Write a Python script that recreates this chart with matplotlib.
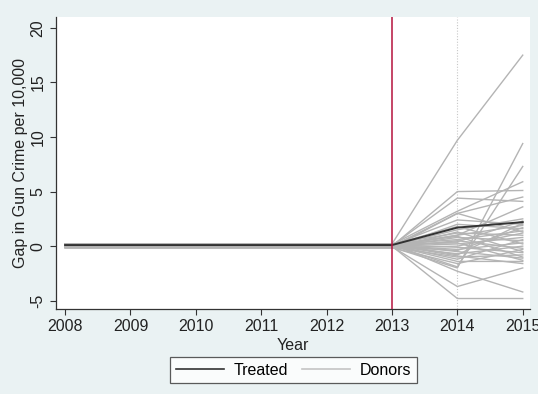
import matplotlib.pyplot as plt

plt.rcParams['font.family'] = ['Liberation Sans', 'DejaVu Sans']

years = [2008, 2009, 2010, 2011, 2012, 2013, 2014, 2015]

# treated unit
treated = [0.1, 0.1, 0.1, 0.1, 0.1, 0.1, 1.7, 2.2]

# donors: flat pre-period gap (2008-2013), then 2014 and 2015 gaps
donor_pre = [0.2, -0.1, 0.1, 0.0, 0.15, -0.15, 0.05, 0.1, -0.05, 0.2,
             0.0, 0.1, -0.1, 0.15, 0.05, -0.15, 0.2, 0.0, 0.1, -0.05,
             0.15, -0.1, 0.05, 0.2, 0.0, -0.15, 0.1, 0.05, -0.05, 0.15,
             0.0, 0.2, -0.1, 0.1, 0.05, -0.15, 0.0, 0.1]
donor_2014 = [9.7, -2.0, -1.9, 5.0, 3.2, 3.0, 4.4, 1.0, -3.7, -2.3, -4.8,
              2.4, 2.0, 1.8, 1.5, 1.3, 1.2, 1.0, 0.9, 0.8, 0.6, 0.5,
              0.4, 0.3, 0.2, 0.0, -0.1, -0.3, -0.4, -0.5, -0.7, -0.8,
              -1.0, -1.2, -1.4, -1.6, 3.0, -0.9]
donor_2015 = [17.5, 9.4, 7.3, 5.1, 5.9, 4.5, 4.1, 3.6, -2.0, -4.2, -4.8,
              2.0, 1.6, 0.2, 2.5, -0.5, 1.0, 1.9, -1.0, 0.5, 1.4, -0.2,
              2.3, -1.3, 0.8, 1.2, -0.6, 0.3, 1.7, -1.1, 0.0, 2.1,
              -0.8, 0.6, -1.4, -0.3, 1.3, -1.6]

bg = '#eaf2f3'
fig = plt.figure(figsize=(5.38, 3.94), dpi=100, facecolor=bg)
ax = fig.add_axes([0.104, 0.216, 0.881, 0.741])
ax.set_facecolor('white')

for pre, g14, g15 in zip(donor_pre, donor_2014, donor_2015):
    ax.plot(years, [pre] * 6 + [g14, g15], color='#b4b4b4', lw=1.0, zorder=2)
ax.plot(years, treated, color='#333333', lw=1.4, zorder=3)

ax.axvline(2013, color='#b5123d', lw=1.1, zorder=4)
ax.axvline(2014, color='#c8c8c8', lw=0.8, ls=(0, (1, 1.5)), zorder=1)

ax.set_xlim(2007.86, 2015.11)
ax.set_ylim(-5.75, 21)
ax.set_xticks(years)
ax.set_yticks([-5, 0, 5, 10, 15, 20])
ax.set_yticklabels(['-5', '0', '5', '10', '15', '20'], rotation=90, va='center')
ax.tick_params(labelsize=11.5, length=4, color='#333333', labelcolor='#222222')

for s in ['top', 'right']:
    ax.spines[s].set_visible(False)
for s in ['left', 'bottom']:
    ax.spines[s].set_color('#333333')
    ax.spines[s].set_linewidth(0.9)

ax.set_ylabel('Gap in Gun Crime per 10,000', fontsize=11.5, color='#222222')
ax.yaxis.set_label_coords(-0.058, 0.5)
ax.set_xlabel('Year', fontsize=11.5, color='#222222')
ax.xaxis.set_label_coords(0.5, -0.098)

h1, = ax.plot([], [], color='#333333', lw=1.2)
h2, = ax.plot([], [], color='#c4c4c4', lw=1.2)
leg = fig.legend([h1, h2], ['Treated', 'Donors'], loc='center',
                 bbox_to_anchor=(0.546, 0.06), ncol=2, fontsize=11.5,
                 frameon=True, fancybox=False, handlelength=3.0,
                 handletextpad=0.6, columnspacing=0.9, borderpad=0.35)
leg.get_frame().set_edgecolor('#333333')
leg.get_frame().set_linewidth(0.9)

fig.savefig('out.png', dpi=100, facecolor=bg)
